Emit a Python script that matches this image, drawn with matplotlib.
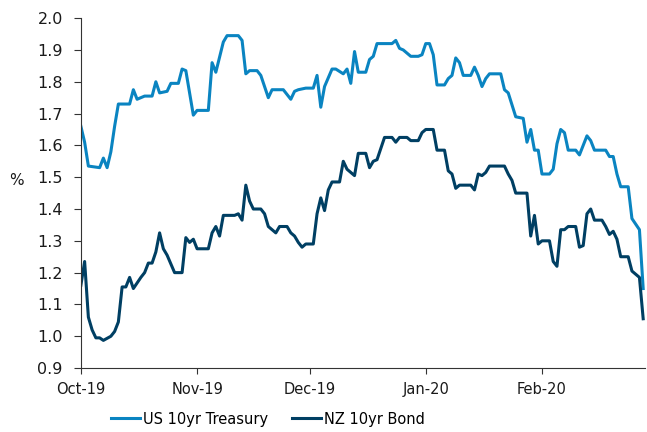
"""
US vs NZ 10yr yields, Oct-19 to Feb-20.
Output: out.png
"""
import pandas as pd
import matplotlib.pyplot as plt
import matplotlib.dates as mdates

# --------- DATA (days counted from 1 Oct 2019) ---------

start = pd.Timestamp("2019-10-01")

us_days = [0, 1, 2, 5, 6, 7, 8, 9, 10, 13, 14, 15, 17, 19, 20, 21, 23, 24, 26, 27,
           28, 30, 31, 34, 35, 36, 38, 39, 42, 43, 44, 45, 47, 48, 49, 50, 51, 54, 55, 56,
           57, 58, 60, 62, 63, 64, 65, 67, 68, 70, 71, 72, 73, 74, 76, 77, 78, 79, 83, 84,
           85, 86, 88, 90, 91, 92, 93, 94, 95, 97, 98, 99, 100, 101, 102, 104, 105, 106, 107, 108,
           109, 112, 113, 114, 116, 118, 119, 120, 121, 122, 123, 125, 126, 127, 128, 129, 130, 132, 133, 135,
           136, 137, 140, 141, 142, 143, 144, 146, 147, 149, 150]
us_10yr = [1.66, 1.61, 1.535, 1.53, 1.56, 1.53, 1.58, 1.66, 1.73, 1.73, 1.775, 1.745, 1.755, 1.755, 1.80, 1.765, 1.77, 1.795, 1.795, 1.84,
           1.835, 1.695, 1.71, 1.71, 1.86, 1.83, 1.925, 1.945, 1.945, 1.93, 1.825, 1.835, 1.835, 1.82, 1.785, 1.75, 1.775, 1.775, 1.76, 1.745,
           1.77, 1.775, 1.78, 1.78, 1.82, 1.72, 1.785, 1.84, 1.84, 1.825, 1.84, 1.795, 1.895, 1.83, 1.83, 1.87, 1.88, 1.92, 1.92, 1.93,
           1.905, 1.90, 1.88, 1.88, 1.885, 1.92, 1.92, 1.885, 1.79, 1.79, 1.81, 1.82, 1.875, 1.86, 1.82, 1.82, 1.846, 1.82, 1.785, 1.81,
           1.825, 1.825, 1.775, 1.765, 1.69, 1.685, 1.61, 1.65, 1.585, 1.585, 1.51, 1.51, 1.525, 1.605, 1.65, 1.64, 1.585, 1.585, 1.57, 1.63,
           1.615, 1.585, 1.585, 1.565, 1.565, 1.51, 1.47, 1.47, 1.37, 1.335, 1.15]

nz_days = [0, 1, 2, 3, 4, 5, 6, 8, 9, 10, 11, 12, 13, 14, 16, 17, 18, 19, 20, 21,
           22, 23, 25, 27, 28, 29, 30, 31, 34, 35, 36, 37, 38, 41, 42, 43, 44, 45, 46, 48,
           49, 50, 52, 53, 55, 56, 57, 58, 59, 60, 62, 63, 64, 65, 66, 67, 69, 70, 71, 73,
           74, 76, 77, 78, 79, 81, 83, 84, 85, 87, 88, 90, 91, 92, 94, 95, 97, 98, 99, 100,
           101, 104, 105, 106, 107, 108, 109, 113, 114, 115, 116, 119, 120, 121, 122, 123, 125, 126, 127, 128,
           129, 130, 132, 133, 134, 135, 136, 137, 139, 140, 141, 142, 143, 144, 146, 147, 149, 150]
nz_10yr = [1.16, 1.235, 1.06, 1.02, 0.995, 0.995, 0.987, 1.0, 1.015, 1.045, 1.155, 1.155, 1.185, 1.15, 1.185, 1.20, 1.23, 1.23, 1.265, 1.325,
           1.275, 1.255, 1.20, 1.20, 1.31, 1.295, 1.305, 1.275, 1.275, 1.325, 1.345, 1.315, 1.38, 1.38, 1.385, 1.365, 1.475, 1.425, 1.40, 1.40,
           1.385, 1.345, 1.325, 1.345, 1.345, 1.325, 1.315, 1.295, 1.28, 1.29, 1.29, 1.385, 1.435, 1.395, 1.46, 1.485, 1.485, 1.55, 1.525, 1.505,
           1.575, 1.575, 1.53, 1.55, 1.555, 1.625, 1.625, 1.61, 1.625, 1.625, 1.615, 1.615, 1.64, 1.65, 1.65, 1.585, 1.585, 1.52, 1.51, 1.465,
           1.475, 1.475, 1.46, 1.51, 1.505, 1.515, 1.535, 1.535, 1.51, 1.49, 1.45, 1.45, 1.315, 1.38, 1.29, 1.30, 1.30, 1.235, 1.22, 1.335,
           1.335, 1.345, 1.345, 1.28, 1.285, 1.385, 1.40, 1.365, 1.365, 1.345, 1.32, 1.33, 1.305, 1.25, 1.25, 1.205, 1.185, 1.055]

us_dates = start + pd.to_timedelta(us_days, unit="D")
nz_dates = start + pd.to_timedelta(nz_days, unit="D")

# --------- PLOT ---------

plt.rcParams["font.family"] = ["DejaVu Sans"]
plt.rcParams["font.size"] = 10

fig = plt.figure(figsize=(6.47, 4.32), dpi=100)
ax = fig.add_axes([0.125, 0.148, 0.872, 0.810])

ax.plot(us_dates, us_10yr, color="#0a84c1", lw=2.2, label="US 10yr Treasury")
ax.plot(nz_dates, nz_10yr, color="#003f63", lw=2.2, label="NZ 10yr Bond")

ax.set_xlim(pd.Timestamp("2019-10-01"), pd.Timestamp("2020-02-28 12:00"))
ax.set_ylim(0.9, 2.0)
ax.set_yticks([0.9 + 0.1 * i for i in range(12)])
ax.yaxis.set_major_formatter(plt.FormatStrFormatter("%.1f"))
ax.xaxis.set_major_locator(mdates.MonthLocator())
ax.xaxis.set_major_formatter(mdates.DateFormatter("%b-%y"))

for side in ["top", "right"]:
    ax.spines[side].set_visible(False)
for side in ["left", "bottom"]:
    ax.spines[side].set_color("#333333")
ax.tick_params(axis="both", colors="#333333", labelcolor="#1a1a1a", length=4, labelsize=10.5)
ax.tick_params(axis="x", pad=6)
ax.tick_params(axis="y", length=5, pad=8, labelsize=11.5)

ax.set_ylabel("%", rotation=0, fontsize=11, color="#1a1a1a")
ax.yaxis.set_label_coords(-0.115, 0.515)

fig.legend(loc="center", bbox_to_anchor=(0.414, 0.03), ncol=2, frameon=False,
           handlelength=2.0, handletextpad=0.2, columnspacing=1.6, fontsize=10.5)

fig.savefig("out.png", dpi=100)
